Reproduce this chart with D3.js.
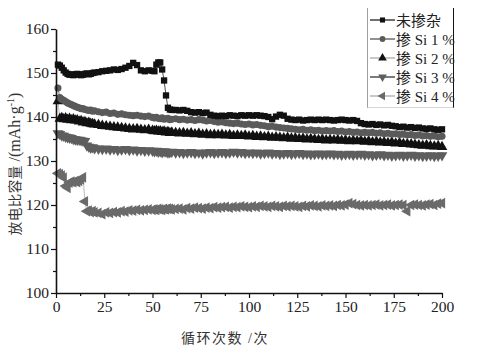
<!DOCTYPE html>
<html>
<head>
<meta charset="utf-8">
<script src="https://cdn.jsdelivr.net/npm/d3@7"></script>
<style>
  html, body { margin: 0; padding: 0; background: #fff; }
  svg { display: block; }
  text { font-family: "Liberation Serif", "Noto Sans CJK SC", serif; }
</style>
</head>
<body>
<svg id="chart" width="484" height="356"></svg>
<script>
// Cycling capacity of undoped vs Si-doped cathodes, 200 cycles.

const cycles = [
  1, 2, 3, 4, 5, 6, 7, 8, 9, 10, 11, 12, 13, 14, 15, 16, 17, 18, 19, 20,
  22, 24, 26, 28, 30, 32, 34, 36, 38, 40, 42, 44, 46, 48, 50,
  51, 52, 53, 54, 55, 56, 57, 58, 59, 60,
  62, 64, 66, 68, 70, 72, 74, 76, 78, 80,
  82, 84, 86, 88, 90, 92, 94, 96, 98, 100,
  102, 104, 106, 108, 110, 112, 114, 116, 118, 120,
  122, 124, 126, 128, 130, 132, 134, 136, 138, 140,
  142, 144, 146, 148, 150, 152, 154, 156, 158, 160,
  162, 164, 166, 168, 170, 172, 174, 176, 178, 180,
  182, 184, 186, 188, 190, 192, 194, 196, 198, 200
];

const undoped = [
  151.9, 151.7, 151.2, 150.6, 150.1, 149.8, 149.6, 149.7, 149.5, 149.6, 149.8, 149.7, 149.5, 149.6, 149.8, 149.9, 149.7, 149.8, 150.0, 150.1,
  150.2, 150.4, 150.5, 150.6, 150.8, 150.7, 150.9, 151.2, 151.6, 152.3, 151.8, 150.6, 150.4, 150.6, 150.5,
  150.4, 151.9, 152.4, 152.4, 150.8, 148.3, 144.9, 142.1, 141.7, 141.6,
  141.6, 141.5, 141.6, 141.4, 141.1, 141.0, 141.1, 140.9, 141.0, 140.5,
  140.3, 140.2, 140.3, 140.2, 140.4, 140.3, 140.2, 140.4, 140.3, 140.4,
  140.3, 140.4, 140.3, 140.2, 140.0, 139.5, 140.1, 140.5, 140.3, 139.6,
  139.4, 139.3, 139.4, 139.2, 139.3, 139.4, 139.3, 139.4, 139.3, 139.4,
  139.3, 139.2, 139.3, 139.4, 139.3, 139.2, 139.3, 139.1, 138.6, 138.4,
  138.3, 138.4, 138.2, 138.3, 138.1, 138.2, 138.0, 137.9, 137.7, 137.8,
  137.6, 137.7, 137.5, 137.6, 137.4, 137.3, 137.4, 137.2, 137.1, 137.2
];

const si1 = [
  146.6, 144.4, 144.0, 143.8, 143.5, 143.2, 143.0, 142.8, 142.6, 142.4, 142.2, 142.1, 141.9, 141.9, 141.7, 141.6, 141.5, 141.6, 141.3, 141.4,
  141.2, 141.0, 141.1, 140.8, 140.9, 140.6, 140.7, 140.5, 140.4, 140.3, 140.4, 140.2, 140.1, 140.2, 139.9,
  139.8, 139.9, 139.7, 139.6, 139.8, 139.5, 139.6, 139.7, 139.4, 139.5,
  139.6, 139.4, 139.5, 139.3, 139.4, 139.2, 139.4, 139.3, 139.1, 139.2,
  139.0, 138.8, 138.9, 138.7, 138.6, 138.5, 138.6, 138.4, 138.3, 138.4,
  138.2, 138.3, 138.1, 138.0, 137.8, 137.9, 137.7, 137.6, 137.5, 137.4,
  137.3, 137.2, 137.1, 137.2, 137.0, 137.1, 136.9, 137.0, 136.8, 136.9,
  136.8, 136.9, 136.7, 136.8, 136.6, 136.7, 136.5, 136.6, 136.4, 136.5,
  136.4, 136.5, 136.3, 136.4, 136.2, 136.3, 136.1, 136.2, 136.0, 136.1,
  135.9, 136.0, 135.8, 135.9, 135.7, 135.8, 135.6, 135.7, 135.5, 135.6
];

const si2 = [
  143.6, 139.6, 139.8, 139.5, 139.7, 139.4, 139.6, 139.3, 139.5, 139.2, 139.3, 139.0, 139.1, 138.8, 138.9, 138.6, 138.7, 138.5, 138.4, 138.3,
  138.2, 138.0, 137.9, 137.8, 137.7, 137.6, 137.5, 137.4, 137.3, 137.2, 137.3, 137.1, 137.0, 137.1, 136.9,
  136.8, 136.9, 136.7, 136.8, 136.6, 136.7, 136.5, 136.6, 136.4, 136.5,
  136.4, 136.3, 136.4, 136.2, 136.3, 136.1, 136.2, 136.0, 136.1, 135.9,
  136.0, 135.9, 136.0, 135.8, 135.9, 135.7, 135.8, 135.7, 135.8, 135.6,
  135.7, 135.5, 135.6, 135.4, 135.5, 135.3, 135.4, 135.3, 135.2, 135.3,
  135.1, 135.2, 135.0, 135.1, 134.9, 135.0, 134.9, 134.8, 134.9, 134.7,
  134.8, 134.7, 134.8, 134.6, 134.7, 134.5, 134.6, 134.5, 134.6, 134.4,
  134.5, 134.3, 134.4, 134.2, 134.3, 134.1, 134.2, 134.0, 134.1, 133.9,
  133.9, 133.8, 133.7, 133.6, 133.5, 133.6, 133.4, 133.3, 133.4, 133.2
];

const si3 = [
  136.3, 136.1, 135.8, 135.7, 135.5, 135.4, 135.3, 135.2, 135.0, 134.9, 134.8, 134.8, 134.7, 134.6, 134.5, 133.5, 133.2, 133.0, 133.1, 132.9,
  132.8, 132.7, 132.8, 132.6, 132.7, 132.5, 132.6, 132.7, 132.5, 132.6, 132.4, 132.5, 132.3, 132.4, 132.3,
  132.2, 132.3, 132.1, 132.2, 132.0, 132.2, 132.1, 131.9, 132.0, 132.1,
  131.9, 132.0, 131.8, 131.9, 132.0, 131.8, 131.9, 131.7, 131.9, 132.0,
  131.8, 131.9, 132.0, 131.8, 131.9, 132.1, 131.9, 132.0, 131.8, 131.9,
  131.8, 131.9, 131.7, 131.8, 131.9, 131.7, 131.8, 131.6, 131.7, 131.8,
  131.6, 131.7, 131.8, 131.6, 131.7, 131.5, 131.6, 131.7, 131.5, 131.6,
  131.7, 131.5, 131.6, 131.4, 131.5, 131.6, 131.4, 131.5, 131.6, 131.4,
  131.5, 131.3, 131.4, 131.5, 131.3, 131.4, 131.2, 131.3, 131.4, 131.2,
  131.3, 131.4, 131.2, 131.3, 131.1, 131.2, 131.3, 131.1, 131.2, 131.3
];

const si4 = [
  127.2, 127.0, 126.7, 126.2, 124.3, 123.9, 125.1, 125.3, 125.2, 125.4, 125.2, 125.5, 125.8, 126.3, 120.8, 118.6, 118.7, 118.4, 118.6, 118.3,
  118.2, 117.9, 118.3, 118.2, 118.4, 118.3, 118.6, 118.5, 118.8, 118.7, 118.9, 118.8, 118.9, 119.0, 118.9,
  119.0, 118.9, 119.1, 119.0, 118.9, 119.1, 119.0, 119.2, 119.1, 119.0,
  119.1, 119.2, 119.0, 119.3, 119.2, 119.4, 119.3, 119.2, 119.4, 119.3,
  119.5, 119.4, 119.5, 119.6, 119.4, 119.6, 119.5, 119.7, 119.6, 119.5,
  119.7, 119.6, 119.8, 119.7, 119.6, 119.8, 119.7, 119.6, 119.8, 119.7,
  119.8, 119.7, 119.6, 119.8, 119.7, 119.9, 119.8, 119.7, 119.9, 119.8,
  119.9, 119.8, 120.0, 119.9, 120.1, 120.4, 120.2, 120.0, 119.9, 120.0,
  119.9, 120.0, 120.1, 119.9, 120.0, 120.1, 119.9, 120.0, 120.1, 120.0,
  118.6, 120.0, 120.1, 120.0, 119.9, 120.1, 120.2, 120.0, 120.3, 120.4
];

const seriesNames = ['未掺杂', '掺 Si 1 %', '掺 Si 2 %', '掺 Si 3 %', '掺 Si 4 %'];
const xTicks = [0, 25, 50, 75, 100, 125, 150, 175, 200];
const yTicks = [100, 110, 120, 130, 140, 150, 160];

const series = [
  { name: seriesNames[0], values: undoped, shape: 'square', fill: '#111', line: '#222' },
  { name: seriesNames[1], values: si1,     shape: 'circle', fill: '#5a5a5a', line: '#555' },
  { name: seriesNames[2], values: si2,     shape: 'up',     fill: '#111', line: '#aaa' },
  { name: seriesNames[3], values: si3,     shape: 'down',   fill: '#5e5e5e', line: '#333' },
  { name: seriesNames[4], values: si4,     shape: 'left',   fill: '#6a6a6a', line: '#aaa' },
];

const svg = d3.select('#chart');
const x = d3.scaleLinear().domain([0, 200]).range([56, 442]);
const y = d3.scaleLinear().domain([100, 160]).range([293, 29]);

// marker glyphs; legend uses a smaller size than the plot
function symbolPath(shape, k) {
  if (shape === 'square') return d3.symbol(d3.symbolSquare, 40 * k)();
  if (shape === 'circle') return d3.symbol(d3.symbolCircle, 40 * k)();
  return d3.symbol(d3.symbolTriangle, 50 * k)();
}
function symbolRotate(shape) {
  if (shape === 'down') return 180;
  if (shape === 'left') return -90;
  return 0;
}

// series: thin connecting line, then markers
const line = d3.line().x((d, i) => x(cycles[i])).y(d => y(d));
const plot = svg.append('g');
series.slice().reverse().forEach(s => {
  plot.append('path')
    .attr('d', line(s.values))
    .attr('fill', 'none')
    .attr('stroke', s.line)
    .attr('stroke-width', 0.8);
  plot.append('g').selectAll('path')
    .data(s.values)
    .enter().append('path')
      .attr('d', symbolPath(s.shape, 1))
      .attr('transform', (d, i) => `translate(${x(cycles[i])},${y(d)}) rotate(${symbolRotate(s.shape)})`)
      .attr('fill', s.fill);
});

// axes
const xAxis = svg.append('g').attr('transform', `translate(0,${y(100)})`)
  .call(d3.axisBottom(x).tickValues(xTicks).tickSize(5).tickSizeOuter(0).tickPadding(3));
svg.append('g').attr('transform', `translate(0,${y(100)})`)
  .call(d3.axisBottom(x).tickValues([12.5, 37.5, 62.5, 87.5, 112.5, 137.5, 162.5, 187.5]).tickSize(3).tickFormat(''))
  .select('.domain').remove();
const yAxis = svg.append('g').attr('transform', `translate(${x(0)},0)`)
  .call(d3.axisLeft(y).tickValues(yTicks).tickSize(5).tickSizeOuter(0).tickPadding(2));
svg.append('g').attr('transform', `translate(${x(0)},0)`)
  .call(d3.axisLeft(y).tickValues([105, 115, 125, 135, 145, 155]).tickSize(3).tickFormat(''))
  .select('.domain').remove();

svg.selectAll('.domain').attr('stroke', '#111').attr('stroke-width', 1.6);
svg.selectAll('.tick line').attr('stroke', '#111').attr('stroke-width', 1.2);
xAxis.selectAll('text').attr('font-size', 15.5).attr('fill', '#222')
  .attr('font-family', '"Liberation Serif", serif');
yAxis.selectAll('text').attr('font-size', 15.5).attr('fill', '#222')
  .attr('font-family', '"Liberation Serif", serif');

// axis titles
svg.append('text')
  .attr('x', 225).attr('y', 343)
  .attr('text-anchor', 'middle')
  .attr('font-size', 14).attr('fill', '#333')
  .attr('letter-spacing', 1.5)
  .text('循环次数 /次');

const yt = svg.append('text')
  .attr('transform', 'translate(20,164) rotate(-90)')
  .attr('text-anchor', 'middle')
  .attr('fill', '#333');
yt.append('tspan').attr('font-size', 13.5).attr('letter-spacing', 0.5).text('放电比容量 ');
yt.append('tspan').attr('font-size', 16).text('/(mAh·g');
yt.append('tspan').attr('font-size', 10).attr('dy', -6).text('-1');
yt.append('tspan').attr('font-size', 16).attr('dy', 6).text(')');

// legend
const legend = svg.append('g');
legend.append('line').attr('x1', 367.5).attr('x2', 367.5).attr('y1', 8).attr('y2', 108)
  .attr('stroke', '#888').attr('stroke-width', 0.8);
legend.append('line').attr('x1', 453.5).attr('x2', 453.5).attr('y1', 8).attr('y2', 108)
  .attr('stroke', '#111').attr('stroke-width', 1);
legend.append('line').attr('x1', 367.5).attr('x2', 453.5).attr('y1', 107.5).attr('y2', 107.5)
  .attr('stroke', '#ccc').attr('stroke-width', 0.8);

const rowY = [20, 39, 58, 77, 96];
series.forEach((s, i) => {
  const g = legend.append('g').attr('transform', `translate(0,${rowY[i]})`);
  g.append('line').attr('x1', 370).attr('x2', 395).attr('y1', 0).attr('y2', 0)
    .attr('stroke', s.line).attr('stroke-width', 1.3);
  g.append('path')
    .attr('d', symbolPath(s.shape, 0.65))
    .attr('transform', `translate(382.5,0) rotate(${symbolRotate(s.shape)})`)
    .attr('fill', s.fill);
  g.append('text')
    .attr('x', 396).attr('y', 5.5)
    .attr('font-size', 15).attr('fill', '#222')
    .attr('xml:space', 'preserve')
    .text(s.name);
});
</script>
</body>
</html>
